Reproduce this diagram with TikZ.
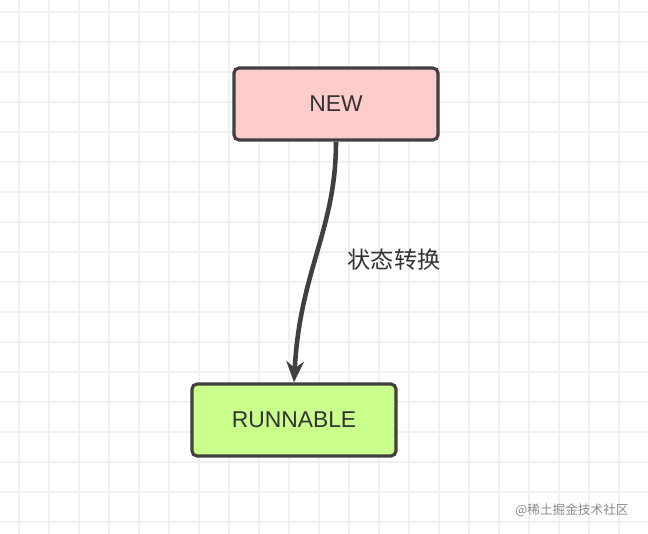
\documentclass[tikz,border=0pt]{standalone}
\usepackage{fontspec}
\setmainfont{Liberation Sans}
\newfontfamily\cjk{Noto Sans CJK SC}
\usetikzlibrary{arrows.meta}

\begin{document}
\begin{tikzpicture}[
	x=0.01cm, y=-0.01cm,
	state/.style={draw=black!75, line width=0.9pt, rounded corners=1.5pt,
		minimum width=2.04cm, minimum height=0.72cm, inner sep=0pt,
		font=\fontsize{6.5}{7}\selectfont, text=black!80},
	>={Stealth[length=6pt,width=5pt]} % filled arrowhead
]
\fill[white] (0,0) rectangle (648,534);
\useasboundingbox (0,0) rectangle (648,534);
% background grid
\foreach \x in {19,49,...,648} \draw[black!6, line width=0.4pt] (\x,0) -- (\x,534);
\foreach \y in {12,42,...,534} \draw[black!6, line width=0.4pt] (0,\y) -- (648,\y);

\node[state, fill=red!20](new) at (336,104) {NEW};
\node[state, fill=green!45!yellow!45](run) at (294,420) {RUNNABLE};

\draw[->, line width=1.3pt, black!75] (new.south) .. controls (336,230) and (300,270) .. (run.north);
\node[font=\cjk\fontsize{6.6}{7}\selectfont, text=black!80](lbl) at (394,260) {状态转换};
\node[font=\cjk\fontsize{3.6}{4}\selectfont, text=black!45](wm) at (572,510) {@稀土掘金技术社区};
\end{tikzpicture}
\end{document}
